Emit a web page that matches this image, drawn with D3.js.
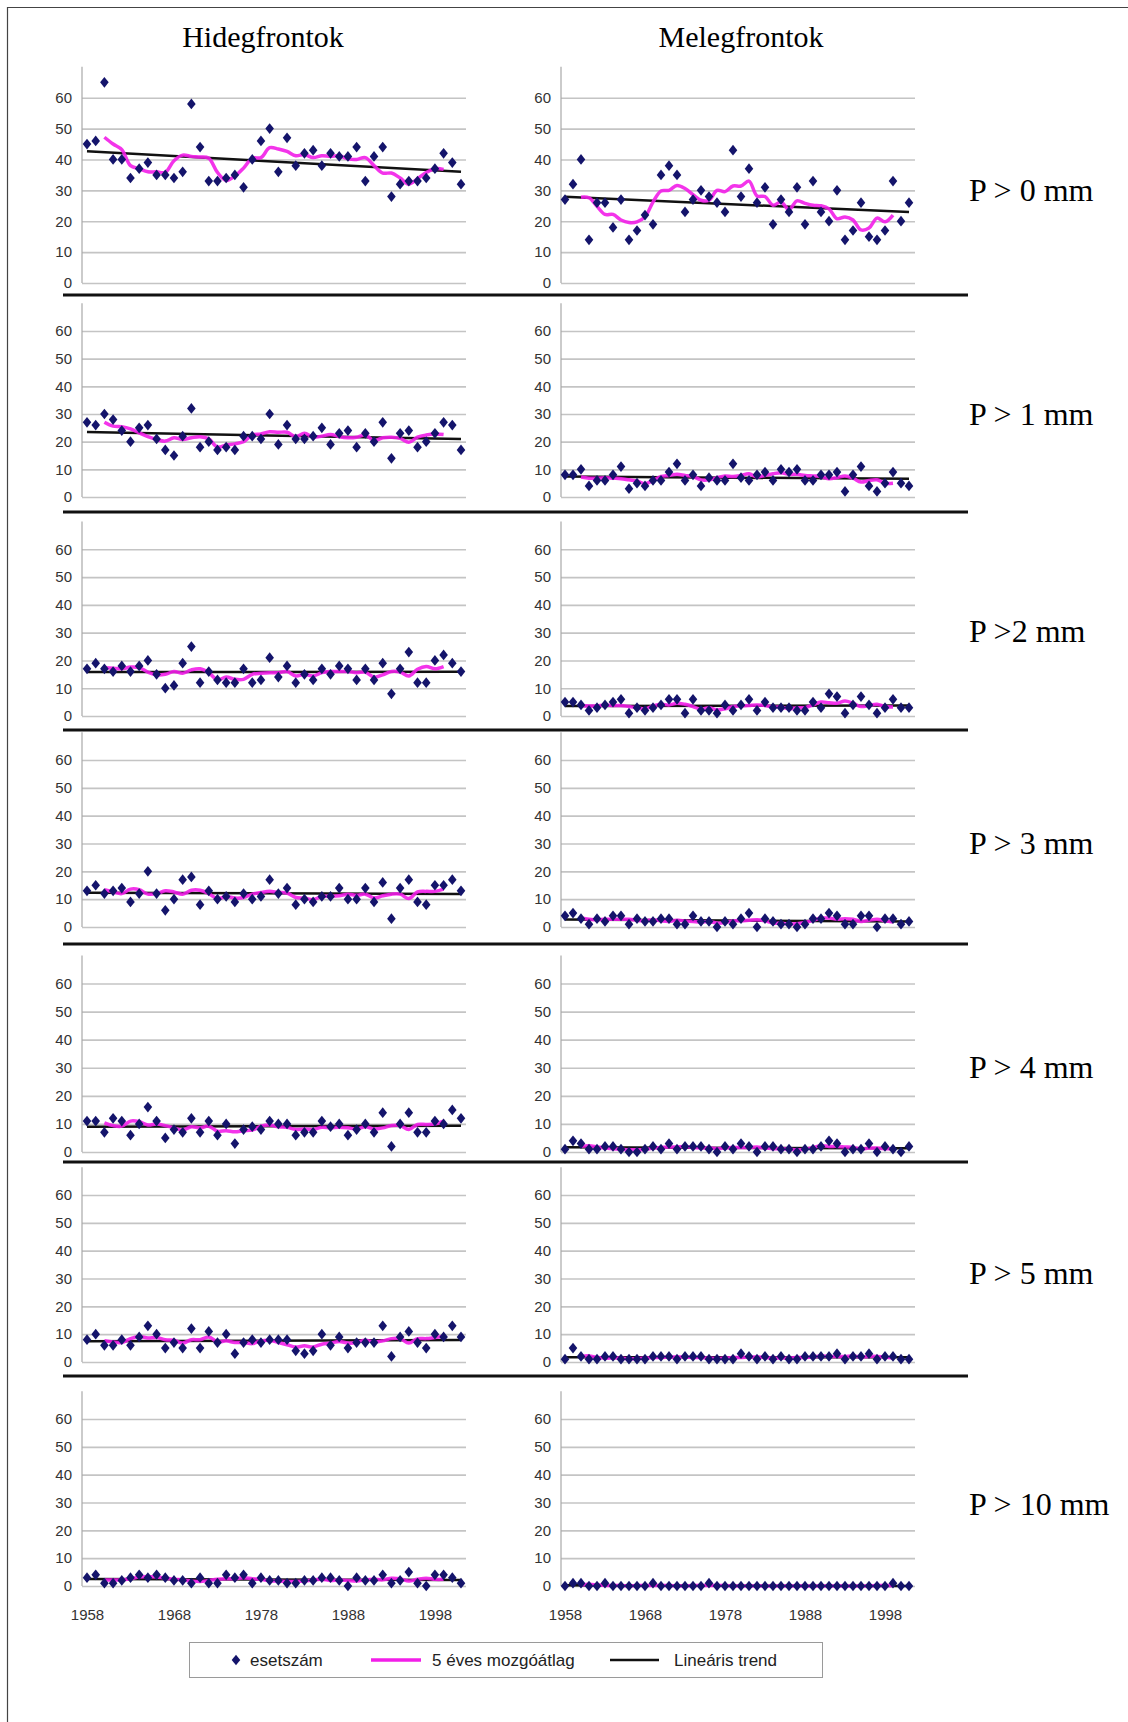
<!DOCTYPE html>
<html>
<head>
<meta charset="utf-8">
<script src="https://cdn.jsdelivr.net/npm/d3@7"></script>
<style>
  body { margin: 0; background: #fff; }
  svg { display: block; }
  .tick text { font-family: "Liberation Sans", Arial, sans-serif; }
</style>
</head>
<body>
<div class="canvas"></div>
<script>
// years on the category axis
var firstYear = 1958, lastYear = 2001
var years = d3.range(firstYear, lastYear + 1)
var yearLabels = [1958, 1968, 1978, 1988, 1998]
var yTicks = [0, 10, 20, 30, 40, 50, 60]

var columnTitles = ["Hidegfrontok", "Melegfrontok"]
var rowLabels = ["P > 0 mm", "P > 1 mm", "P >2 mm", "P > 3 mm", "P > 4 mm", "P > 5 mm", "P > 10 mm"]
var legendLabels = ["esetszám", "5 éves mozgóátlag", "Lineáris trend"]

// esetszám, hidegfrontok (cold fronts)
var hidegP0 = [45,46,65,40,40,34,37,39,35,35,34,36,58,44,33,33,34,35,31,40,46,50,36,47,38,42,43,38,42,41,41,44,33,41,44,28,32,33,33,34,37,42,39,32]
var hidegP1 = [27,26,30,28,24,20,25,26,21,17,15,22,32,18,20,17,18,17,22,22,21,30,19,26,21,21,22,25,19,23,24,18,23,20,27,14,23,24,18,20,23,27,26,17]
var hidegP2 = [17,19,17,16,18,16,18,20,15,10,11,19,25,12,16,13,12,12,17,12,13,21,14,18,12,15,13,17,15,18,17,13,17,13,19,8,17,23,12,12,20,22,19,16]
var hidegP3 = [13,15,12,13,14,9,12,20,12,6,10,17,18,8,13,10,11,9,12,10,11,17,12,14,8,10,9,11,11,14,10,10,14,9,16,3,14,17,9,8,15,15,17,13]
var hidegP4 = [11,11,7,12,11,6,10,16,11,5,8,7,12,7,11,6,10,3,8,9,8,11,10,10,6,7,7,11,9,10,6,8,10,7,14,2,10,14,7,7,11,10,15,12]
var hidegP5 = [8,10,6,6,8,6,9,13,10,5,7,5,12,5,11,7,10,3,7,8,7,8,8,8,4,3,4,10,6,9,5,7,7,7,13,2,9,11,7,5,10,9,13,9]
var hidegP10 = [3,4,1,1,2,3,4,3,4,3,2,2,1,3,1,1,4,3,4,1,3,2,2,1,1,2,2,3,3,2,0,3,2,2,4,1,2,5,1,0,4,4,3,1]

// esetszám, melegfrontok (warm fronts)
var melegP0 = [27,32,40,14,26,26,18,27,14,17,22,19,35,38,35,23,27,30,28,26,23,43,28,37,26,31,19,27,23,31,19,33,23,20,30,14,17,26,15,14,17,33,20,26]
var melegP1 = [8,8,10,4,6,6,8,11,3,5,4,6,6,9,12,6,8,4,7,6,6,12,7,6,8,9,6,10,9,10,6,6,8,8,9,2,8,11,4,2,5,9,5,4]
var melegP2 = [5,5,4,2,3,4,5,6,1,3,2,3,4,6,6,1,6,2,2,1,4,2,4,6,2,5,3,3,3,2,2,5,3,8,7,1,4,7,4,1,3,6,3,3]
var melegP3 = [4,5,3,1,3,2,4,4,1,3,2,2,3,3,1,1,4,2,2,0,2,1,3,5,0,3,2,1,1,0,1,3,3,5,4,1,1,4,4,0,3,3,1,2]
var melegP4 = [1,4,3,1,1,2,2,1,0,0,1,2,1,3,1,2,2,2,1,0,2,1,3,2,0,2,2,1,1,0,1,1,2,4,3,0,1,1,3,0,2,1,0,2]
var melegP5 = [1,5,2,1,1,2,2,1,1,1,1,2,2,2,1,2,2,2,1,1,1,1,3,2,1,2,1,2,1,1,2,2,2,2,3,1,2,2,3,1,2,2,1,1]
var melegP10 = [0,1,1,0,0,1,0,0,0,0,0,1,0,0,0,0,0,0,1,0,0,0,0,0,0,0,0,0,0,0,0,0,0,0,0,0,0,0,0,0,0,1,0,0]

var hidegRows = [hidegP0, hidegP1, hidegP2, hidegP3, hidegP4, hidegP5, hidegP10]
var melegRows = [melegP0, melegP1, melegP2, melegP3, melegP4, melegP5, melegP10]

// layout: pixel y of the 60 gridline and of the 0 line, per row
var rowTop = [97.7, 331, 549.3, 760, 983.5, 1195, 1419]
var rowZero = [283, 497, 716, 927, 1152, 1362, 1586]
var separators = [295, 512, 730, 944, 1162, 1376]
var rowLabelY = [201, 425, 642, 854, 1078, 1284, 1515]

// left / right panel x layout
var panels = [
  { axisX: 82, x0: 87, x1: 461, gridEnd: 466, titleX: 263 },
  { axisX: 561, x0: 565, x1: 909, gridEnd: 915, titleX: 741 }
]

var navy = "#14146b", pink = "#f21ee8"

var svg = d3.select(".canvas").append("svg")
    .attr("width", 1128)
    .attr("height", 1722)

// outer frame
svg.append("path")
    .attr("d", "M7.5,1722V7.5H1128")
    .attr("fill", "none")
    .attr("stroke", "#444")
    .attr("stroke-width", 1.2)

// column titles
svg.selectAll(".coltitle")
  .data(columnTitles)
  .enter()
  .append("text")
    .attr("x", (d, i) => panels[i].titleX)
    .attr("y", 47)
    .attr("text-anchor", "middle")
    .style("font-family", "'Liberation Serif', 'Times New Roman', serif")
    .style("font-size", "30px")
    .text(d => d)

// custom, slightly wide diamond marker
var diamond = {
  draw: function(ctx, size) {
    var h = Math.sqrt(size) * 0.6, w = h * 0.8
    ctx.moveTo(0, -h); ctx.lineTo(w, 0); ctx.lineTo(0, h); ctx.lineTo(-w, 0); ctx.closePath()
  }
}

function movingAvg(vals, k) {
  var half = Math.floor(k / 2), out = []
  for (var i = half; i < vals.length - half; i++) {
    out.push({ year: years[i], v: d3.mean(vals.slice(i - half, i + half + 1)) })
  }
  return out
}

function linearTrend(vals) {
  var mx = d3.mean(years), my = d3.mean(vals)
  var sxy = d3.sum(years, (y, i) => (y - mx) * (vals[i] - my))
  var sxx = d3.sum(years, y => (y - mx) * (y - mx))
  var b = sxy / sxx, a = my - b * mx
  return [firstYear, lastYear].map(y => ({ year: y, v: a + b * y }))
}

function drawPanel(vals, row, col) {
  var p = panels[col]
  var x = d3.scaleLinear().domain([firstYear, lastYear]).range([p.x0, p.x1])
  var y = d3.scaleLinear().domain([0, 60]).range([rowZero[row], rowTop[row]])
  var g = svg.append("g")

  // gridlines + tick labels
  var ax = g.append("g")
      .attr("transform", "translate(" + p.axisX + ",0)")
      .call(d3.axisLeft(y).tickValues(yTicks).tickSize(-(p.gridEnd - p.axisX)).tickPadding(10))
  ax.select(".domain").remove()
  ax.selectAll(".tick line").attr("stroke", "#c4c4c4").attr("stroke-width", 1.6)
  ax.selectAll(".tick text").attr("fill", "#333").style("font-size", "15px")

  // vertical axis line
  g.append("line")
      .attr("x1", p.axisX).attr("x2", p.axisX)
      .attr("y1", y(70)).attr("y2", y(0))
      .attr("stroke", "#a8a8a8").attr("stroke-width", 1.2)

  // linear trend
  g.append("path")
      .datum(linearTrend(vals))
      .attr("fill", "none")
      .attr("stroke", "#111")
      .attr("stroke-width", 2.5)
      .attr("d", d3.line().x(d => x(d.year)).y(d => y(d.v)))

  // 5-year moving average
  g.append("path")
      .datum(movingAvg(vals, 5))
      .attr("fill", "none")
      .attr("stroke", pink)
      .attr("stroke-width", 3.5)
      .attr("stroke-opacity", 0.9)
      .attr("d", d3.line().curve(d3.curveCatmullRom).x(d => x(d.year)).y(d => y(d.v)))

  // esetszám points
  g.selectAll(".pt")
    .data(vals)
    .enter()
    .append("path")
      .attr("transform", (d, i) => "translate(" + x(years[i]) + "," + y(d) + ")")
      .attr("d", d3.symbol().type(diamond).size(80))
      .attr("fill", navy)

  // x labels only on the last row
  if (row == rowLabels.length - 1) {
    var xa = g.append("g")
        .attr("transform", "translate(0," + (y(0) + 20) + ")")
        .call(d3.axisBottom(x).tickValues(yearLabels).tickFormat(d3.format("d")).tickSize(0))
    xa.select(".domain").remove()
    xa.selectAll(".tick text").attr("fill", "#333").style("font-size", "15px")
  }
}

for (var r = 0; r < rowLabels.length; r++) {
  drawPanel(hidegRows[r], r, 0)
  drawPanel(melegRows[r], r, 1)
}

// row separators
svg.selectAll(".sep")
  .data(separators)
  .enter()
  .append("line")
    .attr("x1", 63).attr("x2", 968)
    .attr("y1", d => d).attr("y2", d => d)
    .attr("stroke", "#111")
    .attr("stroke-width", 3)

// row labels
svg.selectAll(".rowlabel")
  .data(rowLabels)
  .enter()
  .append("text")
    .attr("x", 969)
    .attr("y", (d, i) => rowLabelY[i])
    .style("font-family", "'Liberation Serif', 'Times New Roman', serif")
    .style("font-size", "32px")
    .text(d => d)

// legend
var legend = svg.append("g")
legend.append("rect")
    .attr("x", 189.5).attr("y", 1642.5)
    .attr("width", 633).attr("height", 35)
    .attr("fill", "#fff")
    .attr("stroke", "#9a9a9a")

var ly = 1660
legend.append("path")
    .attr("transform", "translate(236," + ly + ")")
    .attr("d", d3.symbol().type(diamond).size(80))
    .attr("fill", navy)
legend.append("line")
    .attr("x1", 371).attr("x2", 421).attr("y1", ly).attr("y2", ly)
    .attr("stroke", pink).attr("stroke-width", 3.5)
legend.append("line")
    .attr("x1", 610).attr("x2", 659).attr("y1", ly).attr("y2", ly)
    .attr("stroke", "#111").attr("stroke-width", 2.5)

var legendX = [250, 432, 674]
legend.selectAll(".ltext")
  .data(legendLabels)
  .enter()
  .append("text")
    .attr("x", (d, i) => legendX[i])
    .attr("y", ly + 6)
    .attr("fill", "#222")
    .style("font-family", "'Liberation Sans', Arial, sans-serif")
    .style("font-size", "17px")
    .text(d => d)
</script>
</body>
</html>
